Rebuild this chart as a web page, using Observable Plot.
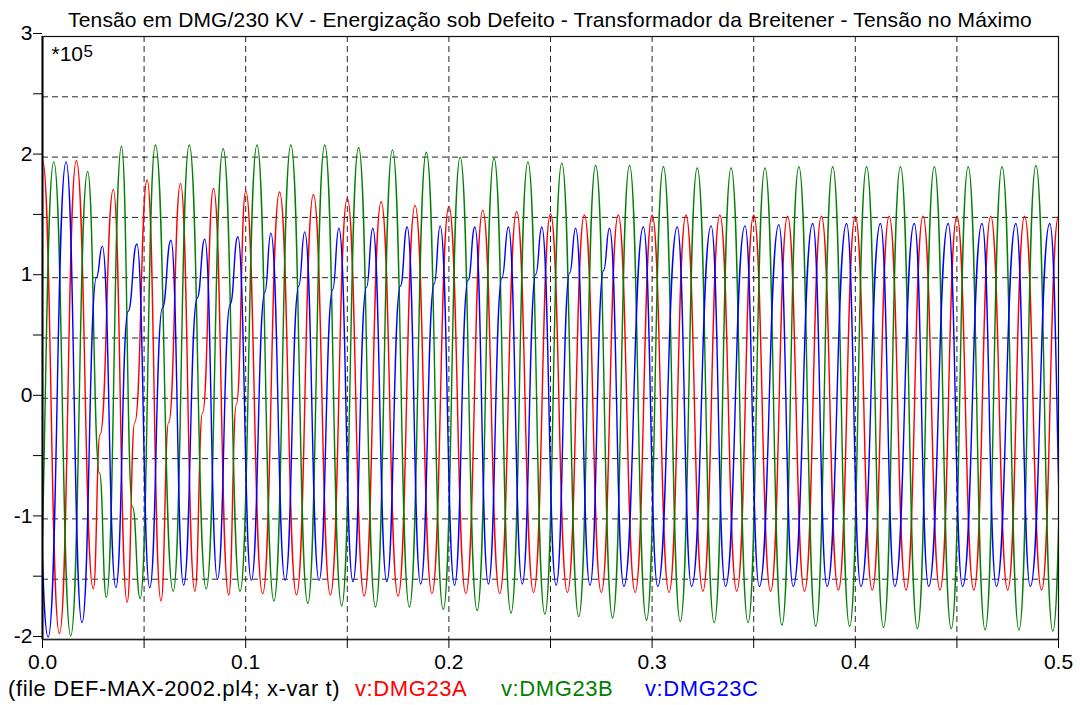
<!DOCTYPE html>
<html>
<head>
<meta charset="utf-8">
<script src="https://cdn.jsdelivr.net/npm/d3@7"></script>
<script src="https://cdn.jsdelivr.net/npm/@observablehq/plot@0.6"></script>
<style>
  html, body { margin: 0; padding: 0; background: #fff; }
  body { width: 1080px; height: 705px; position: relative; overflow: hidden;
         font-family: "Liberation Sans", Arial, sans-serif; color: #000; }
  #chart { position: absolute; top: 24px; left: 0; }
  #title { position: absolute; top: 9px; left: 20px; width: 1060px; text-align: center;
           font-size: 21px; line-height: 21px; letter-spacing: 0.15px; white-space: nowrap; z-index: 2; }
  #caption { position: absolute; top: 678px; left: 0; width: 1080px; height: 26px;
             font-size: 22px; line-height: 22px; letter-spacing: 0.6px; white-space: nowrap; }
  #caption span { position: absolute; top: 0; }
</style>
</head>
<body>
<div id="chart"></div>
<div id="title">Tensão em DMG/230 KV - Energização sob Defeito - Transformador da Breitener - Tensão no Máximo</div>
<div id="caption">
  <span style="left:8px">(file DEF-MAX-2002.pl4; x-var t)</span>
  <span style="left:355px;color:#ff0000">v:DMG23A</span>
  <span style="left:501px;color:#008000">v:DMG23B</span>
  <span style="left:645px;color:#0000ff">v:DMG23C</span>
</div>
<script>
// Phase voltages at DMG 230 kV (units of 1e5 V), 60 Hz.
// Each entry is [half-cycle position, voltage]: successive peaks and troughs,
// plus the shoulders seen on the rising edges during the transient.
const phaseA = [
  [0, 1.975], [1, -1.95], [2, 1.97], [3, -1.58], [3.4, -0.3], [4.18, 1.73],
  [5, -1.69], [5.45, -0.2], [6.18, 1.81], [7, -1.68], [7.45, -0.2], [8.15, 1.78],
  [9, -1.6], [9.45, -0.12], [10.1, 1.74], [11, -1.63], [11.45, -0.05], [12, 1.72],
  [13, -1.62], [14, 1.71], [15, -1.63], [16, 1.69], [17, -1.63], [18, 1.66],
  [19, -1.64], [20, 1.63], [21, -1.64], [22, 1.60], [23, -1.62], [24, 1.59],
  [25, -1.62], [26, 1.56], [27, -1.62], [28, 1.55], [29, -1.61], [30, 1.53],
  [31, -1.61], [32, 1.52], [33, -1.61], [34, 1.52], [35, -1.61], [36, 1.52],
  [37, -1.61], [38, 1.52], [39, -1.60], [40, 1.52], [41, -1.60], [42, 1.52],
  [43, -1.60], [44, 1.51], [45, -1.60], [46, 1.51], [47, -1.59], [48, 1.51],
  [49, -1.59], [50, 1.51], [51, -1.59], [52, 1.51], [53, -1.59], [54, 1.51],
  [55, -1.59], [56, 1.51], [57, -1.59], [58, 1.51], [59, -1.59], [60, 1.51]
];
const phaseB = [
  [-1, -1.9], [0, 1.96], [1, -1.97], [2, 1.88], [2.7, -0.62], [3.1, -1.65],
  [4, 2.09], [4.65, -0.9], [5.1, -1.66], [6, 2.10], [7.05, -1.6], [8, 2.10],
  [9, -1.58], [10, 2.07], [11, -1.6], [12, 2.10], [13, -1.68], [14, 2.10],
  [15, -1.70], [16, 2.10], [17, -1.72], [18, 2.08], [19, -1.73], [20, 2.06],
  [21, -1.73], [22, 2.04], [23, -1.75], [24, 2.00], [25, -1.76], [26, 1.99],
  [27, -1.78], [28, 1.96], [29, -1.79], [30, 1.95], [31, -1.81], [32, 1.93],
  [33, -1.82], [34, 1.93], [35, -1.84], [36, 1.92], [37, -1.85], [38, 1.91],
  [39, -1.86], [40, 1.91], [41, -1.86], [42, 1.91], [43, -1.88], [44, 1.92],
  [45, -1.89], [46, 1.92], [47, -1.89], [48, 1.92], [49, -1.90], [50, 1.92],
  [51, -1.91], [52, 1.92], [53, -1.91], [54, 1.92], [55, -1.92], [56, 1.92],
  [57, -1.92], [58, 1.93], [59, -1.93], [60, 1.93]
];
const phaseC = [
  [0, 1.0], [1, -1.98], [2.06, 1.96], [3, -1.86], [3.85, 1.0], [4.2, 1.26],
  [5, -1.57], [5.72, 0.72], [6.24, 1.28], [7, -1.57], [7.75, 0.75], [8.25, 1.31],
  [9, -1.55], [9.8, 0.83], [10.25, 1.32], [11, -1.5], [11.75, 0.78], [12.2, 1.34],
  [13, -1.51], [13.8, 0.88], [14.15, 1.37], [15, -1.51], [15.8, 0.93], [16.15, 1.38],
  [17, -1.51], [17.8, 0.9], [18.17, 1.41], [19, -1.52], [19.8, 0.92], [20.17, 1.41],
  [21, -1.52], [21.8, 0.93], [22.2, 1.42], [23, -1.54], [23.8, 0.95], [24.15, 1.43],
  [25, -1.55], [25.8, 0.98], [26.2, 1.42], [27, -1.54], [27.8, 1.0], [28.18, 1.42],
  [29, -1.54], [29.8, 1.03], [30.15, 1.42], [31, -1.55], [31.8, 1.04], [32.15, 1.41],
  [33, -1.55], [33.8, 1.06], [34.15, 1.41], [35, -1.56], [36.15, 1.42], [37, -1.56],
  [38.15, 1.42], [39, -1.56], [40.15, 1.43], [41, -1.56], [42.15, 1.43], [43, -1.56],
  [44.15, 1.44], [45, -1.56], [46.15, 1.45], [47, -1.56], [48.15, 1.45], [49, -1.56],
  [50.15, 1.45], [51, -1.56], [52.15, 1.45], [53, -1.56], [54.15, 1.45], [55, -1.56],
  [56.15, 1.45], [57, -1.56], [58.15, 1.45], [59, -1.56], [60.15, 1.45], [61, -1.56]
];

const seriesNames = ["v:DMG23A", "v:DMG23B", "v:DMG23C"];
const seriesColors = ["#ff0000", "#008000", "#0000ff"];
// time of the first extreme of each phase (s); phases 120 degrees apart
const seriesStart = [0, 1 / 180, -1 / 180];
const halfCycle = 1 / 120;

const xTicks = [0, 0.05, 0.1, 0.15, 0.2, 0.25, 0.3, 0.35, 0.4, 0.45, 0.5];
const xTickLabels = ["0.0", "", "0.1", "", "0.2", "", "0.3", "", "0.4", "", "0.5"];
const yTicks = [-2, -1.5, -1, -0.5, 0, 0.5, 1, 1.5, 2, 2.5, 3];
const yTickLabels = ["-2", "", "-1", "", "0", "", "1", "", "2", "", "3"];
const xGrid = [0.05, 0.1, 0.15, 0.2, 0.25, 0.3, 0.35, 0.4, 0.45];
const yGrid = [-1.5, -1, -0.5, 0, 0.5, 1, 1.5, 2, 2.5];

const rows = [phaseA, phaseB, phaseC].flatMap((pts, i) =>
  pts.map(([n, v]) => ({series: seriesNames[i], t: seriesStart[i] + n * halfCycle, v}))
);

const chart = Plot.plot({
  width: 1080,
  height: 648,
  marginTop: 12,
  marginBottom: 33,
  marginLeft: 42,
  marginRight: 22,
  style: {fontFamily: "'Liberation Sans', Arial, sans-serif", fontSize: "21px", color: "#000", background: "none", overflow: "visible"},
  x: {domain: [0, 0.5], label: null},
  y: {domain: [-2, 3], label: null},
  color: {domain: seriesNames, range: seriesColors},
  marks: [
    Plot.ruleY(yGrid, {stroke: "#000", strokeOpacity: 0.85, strokeDasharray: "6,4"}),
    Plot.ruleX(xGrid, {stroke: "#000", strokeOpacity: 0.85, strokeDasharray: "6,4"}),
    Plot.line(rows, {x: "t", y: "v", z: "series", stroke: "series", curve: "bump-x", strokeWidth: 1.4, clip: true}),
    Plot.frame({stroke: "#111", strokeWidth: 1.2}),
    Plot.ruleX([0], {stroke: "#000", strokeWidth: 2}),
    Plot.ruleY([-2], {stroke: "#222", strokeWidth: 1.5}),
    Plot.axisY({ticks: yTicks, tickSize: 9, tickPadding: 1, dy: -3, label: null,
      tickFormat: (d) => yTickLabels[yTicks.indexOf(d)], stroke: "#000"}),
    Plot.axisX({ticks: xTicks, tickSize: 9, tickPadding: 6, label: null,
      tickFormat: (d) => xTickLabels[xTicks.indexOf(d)], stroke: "#000"}),
    Plot.text(["*10"], {frameAnchor: "top-left", dx: 9, dy: 10, lineAnchor: "top", textAnchor: "start", fontSize: 21}),
    Plot.text(["5"], {frameAnchor: "top-left", dx: 41, dy: 8, lineAnchor: "top", textAnchor: "start", fontSize: 17})
  ]
});
document.getElementById("chart").appendChild(chart);
</script>
</body>
</html>
